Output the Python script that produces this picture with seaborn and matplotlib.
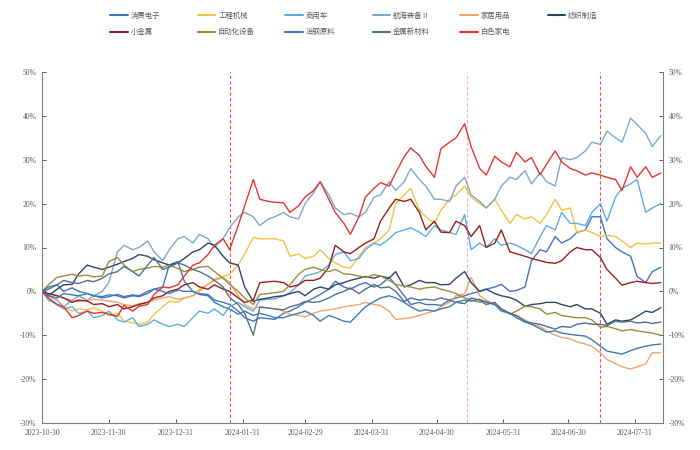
import matplotlib
matplotlib.use('Agg')
import matplotlib.pyplot as plt
import matplotlib.ticker as mticker
from matplotlib.lines import Line2D
import pandas as pd
import seaborn as sns

# ---------------- data ----------------
series_names = ['消费电子', '工程机械', '商用车', '航海装备Ⅱ', '家居用品', '纺织制造',
                '小金属', '自动化设备', '冶钢原料', '金属新材料', '白色家电']
series_colors = ['#4472C4', '#F2C240', '#5AAEE3', '#7FA8C8', '#F0A46E', '#2E4564',
                 '#9B1D1D', '#A08B3B', '#3C7BB7', '#52708B', '#E5352E']

all_days = pd.date_range('2023-10-30', '2024-08-12', freq='D')
dates = all_days[all_days.dayofweek.isin([0, 3])]   # Mon / Thu observations

xtick_labels = ['2023-10-30', '2023-11-30', '2023-12-31', '2024-01-31', '2024-02-29',
                '2024-03-31', '2024-04-30', '2024-05-31', '2024-06-30', '2024-07-31']
ytick_values = [-30, -20, -10, 0, 10, 20, 30, 40, 50]
event_dates = ['2024-01-25', '2024-05-14', '2024-07-15']
event_colors = ['#E8504A', '#F5B5B5', '#E8504A']

xiaofei_dianzi = [0, 0.5, 1.5, 0, 0.8, 0, -0.5, -1, -1.5, -1.2,
                  -0.7, -1.2, -0.8, -1, 0, 0.5, 1, 6, 6.8, 2.3,
                  0, -0.5, -0.7, -2, -2.5, -3, -4.5, -6, -6.8, -6,
                  -6.2, -6.4, -5, -4.5, -3.5, -2.5, -1.5, -0.7, 0.5, 2.3,
                  1, 0.5, 1.5, 2, 1, 1.5, 3.2, 1.5, -1, -3,
                  -2.5, -3, -3, -3.2, -2, -1.5, -1, -0.5, 0, 0.5,
                  1, 1.6, 0, 0.2, 1, 7, 9.5, 9, 12.5, 11,
                  12, 13.4, 14, 17, 17, 12, 10, 9, 8, 3.4,
                  2, 4.5, 5.5]
gongcheng_jixie = [0, -1.5, -3, -3.5, -4.5, -4, -4.2, -3.8, -4.5, -5.5,
                   -5, -6.8, -7.2, -7.5, -7, -5.2, -3.5, -2.3, -2.5, -1.5,
                   -1, 0.5, 1.6, 2.8, 3.4, 3.9, 6, 8.5, 12.3, 12,
                   12, 12, 11.5, 8, 8.5, 7.5, 8, 9.5, 7.5, 6.5,
                   5.5, 5.3, 8, 10, 11, 12, 14, 20, 22, 23.5,
                   18.5, 17, 15.5, 18.5, 21, 22, 24, 21.5, 20, 19,
                   21, 18.5, 15.5, 17.5, 16.5, 17, 15.5, 17.5, 21, 18.5,
                   19, 13.5, 14, 13.4, 12.5, 12.8, 12.5, 11.5, 10, 11,
                   10.8, 11, 11]
shangyongche = [0, -2, -3, -4, -3.5, -5, -4.5, -6, -5.5, -4.5,
                -6.5, -7, -6, -8, -7.5, -6.5, -7.5, -8, -7.5, -8,
                -6, -4.5, -5, -4, -5.5, -3.5, -2.5, -3.5, -4.5, -2,
                -1.8, -1.7, -1, -0.3, 1.5, 3.5, 4, 4.5, 6, 8.4,
                9, 7, 7.5, 9.5, 11, 10.5, 12, 13.4, 14, 14.5,
                13.5, 12.5, 15, 14, 13.4, 13, 17.5, 9.5, 11, 10,
                12, 10.5, 11, 10.5, 9.5, 8.6, 12.5, 15, 14, 18,
                15.5, 15.5, 15, 18, 20, 16, 21.5, 23.5, 24.5, 25.5,
                18, 19, 20]
hanghai_zhuangbei = [0, -1, -2, -3.5, -2, -1, -2, -1, 0, 2,
                     9, 10.5, 9.5, 10, 11.5, 9, 7, 9.5, 12, 12.5,
                     11, 13, 12, 10, 12, 14.5, 17, 18, 17, 15,
                     16.5, 17, 18, 17, 16.5, 20, 22.5, 25, 22, 19,
                     17.5, 17.8, 17, 18, 21.5, 22, 25, 23, 25, 28,
                     25.5, 24, 21, 21, 20.5, 24, 26, 22, 20.5, 19,
                     21, 24, 26, 25.5, 27.5, 24.5, 27, 25, 24, 30.5,
                     30, 30.5, 32, 34, 33.5, 36.5, 35, 34, 39.5, 38,
                     36, 33, 35.5]
jiaju_yongpin = [0, -0.5, -1, -1.5, -2, -2.3, -2, -1.8, -2, -2.2,
                 -2.5, -3, -3.3, -2.8, -2.5, -2, -1.5, -1.2, -1.8, -1.5,
                 -1, 0, 1.6, 2.5, 3.2, 2, -1, -3, -4, -3.5,
                 -3.8, -4, -4.5, -5.2, -5.5, -5.8, -5, -4.5, -4.2, -4,
                 -3.5, -3.3, -3, -2.5, -3, -3.2, -4.5, -6.4, -6.2, -6,
                 -5.5, -5, -4.5, -3.5, -2.5, -1, -0.5, 3.2, -1, -2,
                 -3, -4, -5, -5.5, -6.5, -7.5, -8, -9, -10, -10.5,
                 -10.8, -11.5, -12, -12.5, -14, -15.5, -16.5, -17.2, -17.7, -17.2,
                 -16.5, -14, -14]
fangzhi_zhizao = [0, -1, 0.5, 1.5, 1.6, 4, 6, 5.5, 5, 5.5,
                  6.2, 6.8, 7.5, 8.4, 8, 7.2, 6.5, 6, 6.5, 7.5,
                  9, 9.5, 11, 10.5, 8, 6.5, 6, 1, -2.3, -1.8,
                  -1.5, -1.2, -1, -0.5, 0, -1, 0.5, 1, 0.5, 1.5,
                  2, 2.5, 3, 3.4, 3, 3.5, 3, 4.5, 1, 1.5,
                  2.5, 2, 2, 1.5, 1.6, 3, 4.5, 2, 0, 0.5,
                  -0.5, -1, -1.4, -2, -3.4, -3, -2.8, -2.5, -2.5, -3,
                  -3.5, -3, -4, -4, -5, -7.5, -6.5, -6.8, -6.5, -5.7,
                  -4.5, -4.8, -3.7]
xiao_jinshu = [0, -0.5, -1, -1.5, -2.5, -2, -2.2, -3, -2.8, -3.5,
               -3, -4, -3.5, -3, -2.5, -1.5, -1, 0, 0.5, 1.5,
               2, 1, 0.5, 1.5, 0.5, 0, -1.5, -2.5, -2, 2,
               2.2, 2.3, 2, 1, 1.5, 2.5, 2.5, 3, 5.5, 10.5,
               9, 8.6, 10, 11, 12, 16, 19, 21, 20.5, 21,
               18, 14, 16, 13.5, 13.4, 16, 15, 12.5, 15, 10,
               11, 14, 9, 8.6, 8, 7.5, 7, 6.6, 6.4, 7,
               9, 10, 9.5, 9.5, 7.7, 5, 3, 1.4, 2, 2.3,
               2, 1.8, 2]
zidonghua_shebei = [0, 1.5, 3.2, 3.5, 3.9, 3.5, 3.7, 3.3, 3.5, 6.8,
                    7.7, 6, 4.5, 5, 5.3, 5.7, 5.5, 6, 5.2, 4.5,
                    5, 5.5, 5.7, 4.5, 3, 1.6, 0, -1.5, -3, -0.7,
                    -0.5, -0.3, 0, 1.5, 3.9, 5, 5.5, 5, 4.5, 5,
                    4, 3.9, 3.5, 3.2, 3.8, 3.5, 2.5, 1.6, 1.2, 1,
                    0.5, 0.8, 1, 0.5, 0, -0.5, -1.5, -2, -2.5, -2.2,
                    -3, -4, -5.2, -4.5, -3.4, -3.5, -4, -5.2, -4.8, -5.5,
                    -5.8, -6, -6, -6.5, -8.2, -8, -8.5, -9, -8.7, -9,
                    -9.3, -9.5, -10]
yegang_yuanliao = [0, -1, -1.5, -0.5, -0.8, -1, -0.5, -1, -1.2, -0.8,
                   -1, -1.5, -1, -1.2, -0.5, 0.5, 0, -0.5, 0.3, 0,
                   0, -0.7, -1, -2.5, -3.5, -4, -5.2, -4.5, -5.5, -5,
                   -5.5, -6, -6, -5.5, -5, -4.5, -5.5, -6.8, -5.5, -6,
                   -6.8, -7, -5, -3.5, -2.3, -1.5, -1, -1.5, -2.5, -3.5,
                   -4.5, -4.2, -4.5, -4, -3.5, -2.5, -2, -2.2, -1.8, -2.5,
                   -3, -4.5, -5, -6, -7, -7.5, -8.5, -9.3, -9, -9.5,
                   -9.8, -10, -10.2, -11, -12.5, -13.6, -14, -14.3, -13.5, -13,
                   -12.5, -12.2, -12]
jinshu_xincailiao = [0, 1, 1.5, 2.5, 2, 1.8, 2.5, 2.2, 3, 4,
                     4.5, 5.7, 4.5, 3.5, 6, 7.7, 5, 5.5, 6.5, 6,
                     5, 4.5, 3.5, 2.5, 1, -1.4, -3, -5, -10, -3.6,
                     -3.8, -4, -4.2, -3.5, -3, -2.3, -2.5, -2.3, -1.5, -0.7,
                     0, 0.8, -0.5, 0.5, 1.6, 0.8, 1, 0, -2.3, -1.5,
                     -2, -1.8, -2, -1.5, -2, -2.5, -2.8, -1.5, -2, -3,
                     -2.5, -4, -5, -5.5, -6.8, -7.2, -7.5, -8, -8.6, -8,
                     -8.2, -7.5, -7.2, -7.5, -7.5, -7.8, -6.8, -7, -6.8, -7.2,
                     -7, -7.3, -7]
baise_jiadian = [0, -1.5, -3, -3.5, -6, -5.5, -4.5, -5, -4.8, -5.2,
                 -5.7, -3.2, -4.5, -3.4, -3, -0.7, 1, 0.8, 1.5, 3.5,
                 6, 6.5, 8.4, 10.5, 12, 9.5, 15, 19.5, 25.5, 21,
                 20.5, 20.3, 20.2, 18, 19.5, 21.5, 23, 25, 21, 18,
                 15.5, 13, 17, 21.5, 23.5, 24.8, 24, 27, 30.7, 32.7,
                 31, 28.5, 26, 32.5, 34, 35, 38.2, 33, 28, 26.5,
                 30.8, 29.5, 28.4, 31.7, 29.5, 30.5, 26.6, 29, 32, 29.5,
                 28, 27.5, 26.5, 27, 26.5, 26, 25.5, 23, 28.4, 26,
                 28.4, 26, 27]

series_values = [xiaofei_dianzi, gongcheng_jixie, shangyongche, hanghai_zhuangbei,
                 jiaju_yongpin, fangzhi_zhizao, xiao_jinshu, zidonghua_shebei,
                 yegang_yuanliao, jinshu_xincailiao, baise_jiadian]

for name, vals in zip(series_names, series_values):
    assert len(vals) == len(dates), (name, len(vals), len(dates))

rows = []
for name, vals in zip(series_names, series_values):
    for d, v in zip(dates, vals):
        rows.append({'date': d, 'value': v, 'series': name})
df = pd.DataFrame(rows)

# ---------------- plot ----------------
sns.set_style('white')
plt.rcParams['font.family'] = ['Noto Sans CJK SC', 'DejaVu Sans']

fig = plt.figure(figsize=(7, 4.5), dpi=100)
ax = fig.add_axes([42 / 700, 27 / 450, 621 / 700, 351 / 450])

palette = dict(zip(series_names, series_colors))
sns.lineplot(data=df, x='date', y='value', hue='series', hue_order=series_names,
             palette=palette, linewidth=1.0, estimator=None, legend=False, ax=ax)

for d, c in zip(event_dates, event_colors):
    ax.axvline(pd.Timestamp(d), color=c, lw=0.8, ls=(0, (3, 2)), zorder=1)

ax.set_xlim(pd.Timestamp('2023-10-30'), pd.Timestamp('2024-08-13'))
ax.set_ylim(-30, 50)
ax.set_yticks(ytick_values)
ax.yaxis.set_major_formatter(mticker.FuncFormatter(lambda v, p: f'{v:.0f}%'))
ax.set_xticks(pd.to_datetime(xtick_labels))
ax.set_xticklabels(xtick_labels)
ax.set_xlabel('')
ax.set_ylabel('')

tick_color = '#595959'
ax.tick_params(axis='y', direction='in', length=3, width=0.7, left=True, right=True,
               labelleft=True, labelright=True, labelsize=5.5, colors=tick_color,
               labelfontfamily='Liberation Serif', pad=4)
ax.tick_params(axis='x', direction='in', length=3, width=0.7, bottom=True,
               labelsize=5.5, colors=tick_color, labelfontfamily='Liberation Serif', pad=4)

for side in ['left', 'right', 'bottom']:
    ax.spines[side].set_color('#7F7F7F')
    ax.spines[side].set_linewidth(0.8)
ax.spines['top'].set_visible(False)

# legend: 6 columns x 2 rows, evenly spaced
row1 = series_names[:6]
row2 = series_names[6:]
for j in range(6):
    names = [row1[j]] + ([row2[j]] if j < len(row2) else [])
    handles = [Line2D([], [], color=palette[n], lw=1.5) for n in names]
    leg = fig.legend(handles, names, loc='upper left',
                     bbox_to_anchor=((110 + 87.5 * j) / 700, 1 - 12 / 450),
                     frameon=False, handlelength=2.4, handletextpad=0.4,
                     labelspacing=1.1, borderaxespad=0, borderpad=0,
                     prop={'family': ['Noto Sans CJK SC', 'DejaVu Sans'], 'size': 5.3})
    for t in leg.get_texts():
        t.set_color(tick_color)

fig.savefig('out.png', dpi=100)
